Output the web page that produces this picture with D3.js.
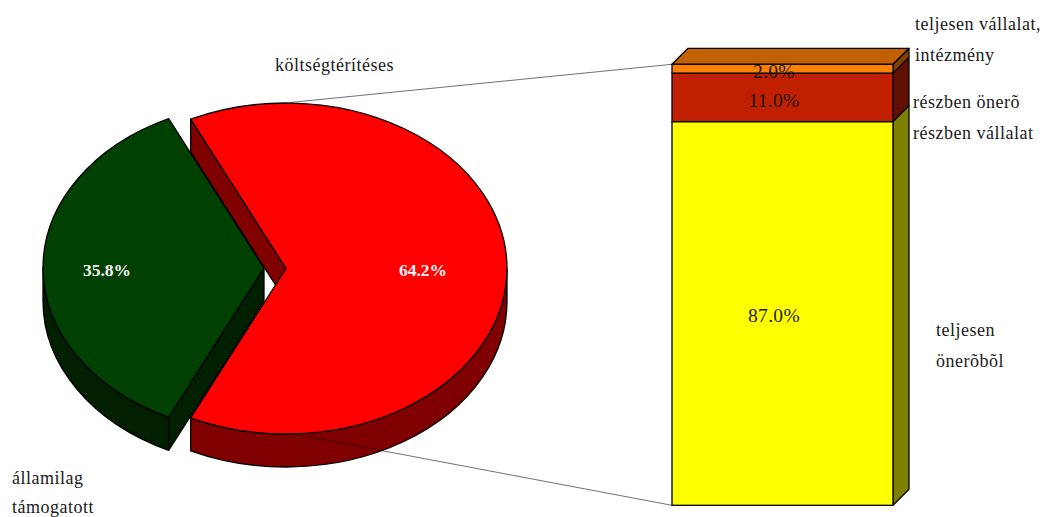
<!DOCTYPE html>
<html><head><meta charset="utf-8">
<script src="https://cdn.jsdelivr.net/npm/d3@7/dist/d3.min.js"></script>
<style>html,body{margin:0;padding:0;background:#fff}svg{display:block}text{font-family:"Liberation Serif",serif;font-size:18px;letter-spacing:0.5px;fill:#1a1a1a}</style>
</head><body><svg id="c" width="1040" height="517"></svg>
<script>
const pieNames = ["költségtérítéses", "államilag támogatott"];
const pieValues = [64.2, 35.8];
const pieLabels = ["64.2%", "35.8%"];
const pieTop = ["#ff0000", "#004000"];
const pieSide = ["#800000", "#002000"];
const barNames = ["teljesen önerõbõl", "részben vállalat részben önerõ", "teljesen vállalat, intézmény"];
const barValues = [87, 11, 2];
const barLabels = ["87.0%", "11.0%", "2.0%"];
const barFront = ["#ffff00", "#c02000", "#ff8000"];
const barSide = ["#808000", "#601000", "#804000"];
const barTop = "#c06000";

const svg = d3.select("#c");
const rx = 221, ry = 165.5, depth = 33;
const cx = 286, cy = 268.5, explode = 22;
const stroke = "#000";

// pie centred so the first slice faces the bar
const sweep = pieValues[0] / d3.sum(pieValues) * 2 * Math.PI;
const pieGen = d3.pie().sort(null).startAngle(Math.PI / 2 - sweep / 2).endAngle(Math.PI / 2 - sweep / 2 + 2 * Math.PI);
const arcs = pieGen(pieValues);

const origins = [[cx, cy], [cx - explode, cy - 0.5]];
const pt = (o, a, dy = 0) => [o[0] + rx * Math.sin(a), o[1] - ry * Math.cos(a) + dy];
function sector(o, a0, a1) {
  const p0 = pt(o, a0), p1 = pt(o, a1);
  return `M${o}L${p0}A${rx},${ry} 0 ${a1 - a0 > Math.PI ? 1 : 0} 1 ${p1}Z`;
}
function outerWall(o, a0, a1) {
  const p0 = pt(o, a0), p1 = pt(o, a1), q0 = pt(o, a0, depth), q1 = pt(o, a1, depth);
  return `M${p0}A${rx},${ry} 0 0 1 ${p1}L${q1}A${rx},${ry} 0 0 0 ${q0}Z`;
}
function edgeWall(o, a) {
  const p = pt(o, a), q = pt(o, a, depth);
  return `M${o}L${p}L${q}L${[o[0], o[1] + depth]}Z`;
}
const g = svg.append("g");
const draw = (d, fill) => g.append("path").attr("d", d).attr("fill", fill)
  .attr("stroke", stroke).attr("stroke-width", 1.3).attr("stroke-linejoin", "round");

const [rArc, gArc] = arcs;
draw(edgeWall(origins[0], rArc.startAngle), pieSide[0]);
draw(outerWall(origins[0], Math.PI / 2, rArc.endAngle), pieSide[0]);
draw(edgeWall(origins[1], gArc.startAngle), pieSide[1]);
draw(outerWall(origins[1], gArc.startAngle, 1.5 * Math.PI), pieSide[1]);
draw(sector(origins[1], gArc.startAngle, gArc.endAngle), pieTop[1]);
draw(sector(origins[0], rArc.startAngle, rArc.endAngle), pieTop[0]);

// stacked bar
const x0 = 672, x1 = 893, off = 16;
const y = d3.scaleLinear().domain([0, 100]).range([505.3, 64.3]);
let acc = 0;
const stacked = barValues.map((v, i) => { const s = { i, v, a: acc, b: acc + v }; acc += v; return s; });

// connectors
const lines = [[[290, 102.5], [x0, y(100)]], [[291, 433.5], [x0, y(0)]]];
g.selectAll("line.c").data(lines).join("line").attr("class", "c")
  .attr("x1", d => d[0][0]).attr("y1", d => d[0][1]).attr("x2", d => d[1][0]).attr("y2", d => d[1][1])
  .attr("stroke", "#111").attr("stroke-width", 0.6);

stacked.forEach(s => {
  draw(`M${x1},${y(s.a)}L${x1 + off},${y(s.a) - off}L${x1 + off},${y(s.b) - off}L${x1},${y(s.b)}Z`, barSide[s.i]);
});
draw(`M${x0},${y(100)}L${x0 + off},${y(100) - off}L${x1 + off},${y(100) - off}L${x1},${y(100)}Z`, barTop);
g.selectAll("rect.f").data(stacked).join("rect").attr("class", "f")
  .attr("x", x0).attr("width", x1 - x0).attr("y", d => y(d.b)).attr("height", d => y(d.a) - y(d.b))
  .attr("fill", d => barFront[d.i]).attr("stroke", stroke).attr("stroke-width", 1.3);

const label = (t, x, yy, o = {}) => svg.append("text").text(t).attr("x", x).attr("y", yy)
  .attr("text-anchor", o.anchor || "start")
  .style("font-weight", o.bold ? "bold" : null).style("fill", o.fill || null)
  .style("font-size", o.size ? o.size + "px" : null)
  .style("letter-spacing", o.ls != null ? o.ls + "px" : null);

label(pieLabels[0], 423, 276, { anchor: "middle", bold: true, fill: "#f4f4f4", size: 17.5, ls: 0 });
label(pieLabels[1], 107, 276, { anchor: "middle", bold: true, fill: "#f4f4f4", size: 17.5, ls: 0 });
[322, 107, 78].forEach((yy, i) => label(barLabels[i], 774, yy, { anchor: "middle", size: 19.5, ls: 0.3 }));

label(pieNames[0], 275, 71);
const [n1, n2] = pieNames[1].split(" ");
label(n1, 12, 484); label(n2, 12, 513);
label("teljesen vállalat,", 915, 30);
label("intézmény", 915, 61);
label("részben önerõ", 913, 108);
label("részben vállalat", 913, 139);
label("teljesen", 936, 336);
label("önerõbõl", 936, 367);
</script></body></html>
